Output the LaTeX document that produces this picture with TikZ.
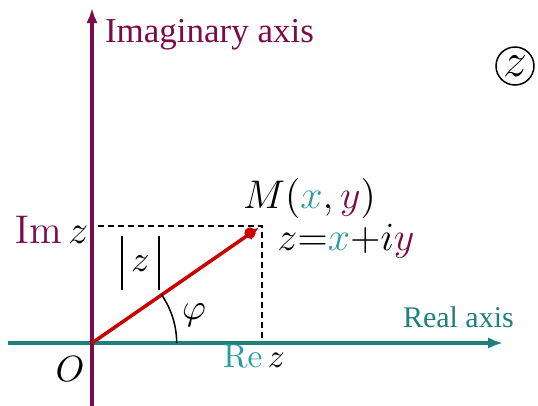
\documentclass[tikz,border=0pt]{standalone}
\usepackage[no-math]{fontspec}
\setmainfont{Liberation Serif}
\usetikzlibrary{arrows.meta}
\definecolor{imagc}{HTML}{7A0C4A}
\definecolor{realc}{HTML}{1E7F7C}
\definecolor{reallt}{HTML}{2A9E9E}
\definecolor{vecc}{HTML}{CC0000}
\newcommand{\absbar}{\rule[-5.6pt]{0.4pt}{16pt}}
\tikzset{
  axisline/.style={line width=1.1pt,-{Latex[length=4.5pt,width=3.4pt]}},
  guide/.style={line width=0.38pt,dash pattern=on 1.8pt off 1.2pt},
  lab/.style={inner sep=0pt,outer sep=0pt},
}
\begin{document}
\begin{tikzpicture}[x=0.3pt,y=-0.3pt]
\useasboundingbox (0,0) rectangle (538,405);
\coordinate (O) at (92,343);
\coordinate (xs) at (8,343);
\coordinate (xe) at (503,343);
\coordinate (ys) at (92,406);
\coordinate (ye) at (92,8);
\coordinate (M) at (250,233);
\coordinate (Mtip) at (259,227.5);
\coordinate (P) at (262,226);
\coordinate (Py) at (98,226);
\coordinate (Px) at (262,343);
% guides
\draw[guide] (Py) -- (P) -- (Px);
% axes
\draw[axisline,realc] (xs) -- (xe);
\draw[axisline,imagc] (ys) -- (ye);
% vector
\draw[vecc,line width=1.05pt,-{Latex[length=4pt,width=3.6pt]}] (O) -- (Mtip);
\fill[vecc] (M) circle[radius=1.7pt];
% angle
\draw[line width=0.45pt] (O) ++(25.4pt,0) arc[start angle=0,end angle=35,radius=25.4pt];
% labels
\node[lab,anchor=base west,imagc,font=\fontsize{10.5}{12}\selectfont] (ilab) at (105,42) {Imaginary axis};
\node[lab,anchor=base west,realc,font=\fontsize{9}{11}\selectfont] (rlab) at (403,327) {Real axis};
\node[lab,anchor=base,font=\fontsize{12.3}{14}\selectfont] (mlab) at (309.5,208) {$M(\textcolor{reallt}{x},\textcolor{imagc}{y})$};
\node[lab,anchor=base,font=\fontsize{11.5}{14}\selectfont] (zlab) at (346,250) {$z{=}\textcolor{reallt}{x}{+}i\textcolor{imagc}{y}$};
\node[lab,anchor=base west,font=\fontsize{11.5}{14}\selectfont] (imz) at (15,243) {$\textcolor{imagc}{\mathrm{Im}}\,z$};
\node[lab,anchor=base west,font=\fontsize{9.6}{12}\selectfont] (rez) at (223,367) {$\textcolor{reallt}{\mathrm{Re}}\,z$};
\node[lab,anchor=base,font=\fontsize{11}{13}\selectfont] (olab) at (70,381) {$O$};
\node[lab,anchor=base,font=\fontsize{11}{13}\selectfont] (abs) at (140.5,271) {$\absbar\hspace{2.6pt}z\hspace{2.6pt}\absbar$};
\node[lab,font=\fontsize{11}{13}\selectfont] (phi) at (194,315) {$\varphi$};
\node[draw,circle,line width=0.45pt,minimum size=11.4pt,inner sep=0pt,font=\fontsize{14}{15}\selectfont] (zc) at (515,66) {$z$};
\end{tikzpicture}
\end{document}
